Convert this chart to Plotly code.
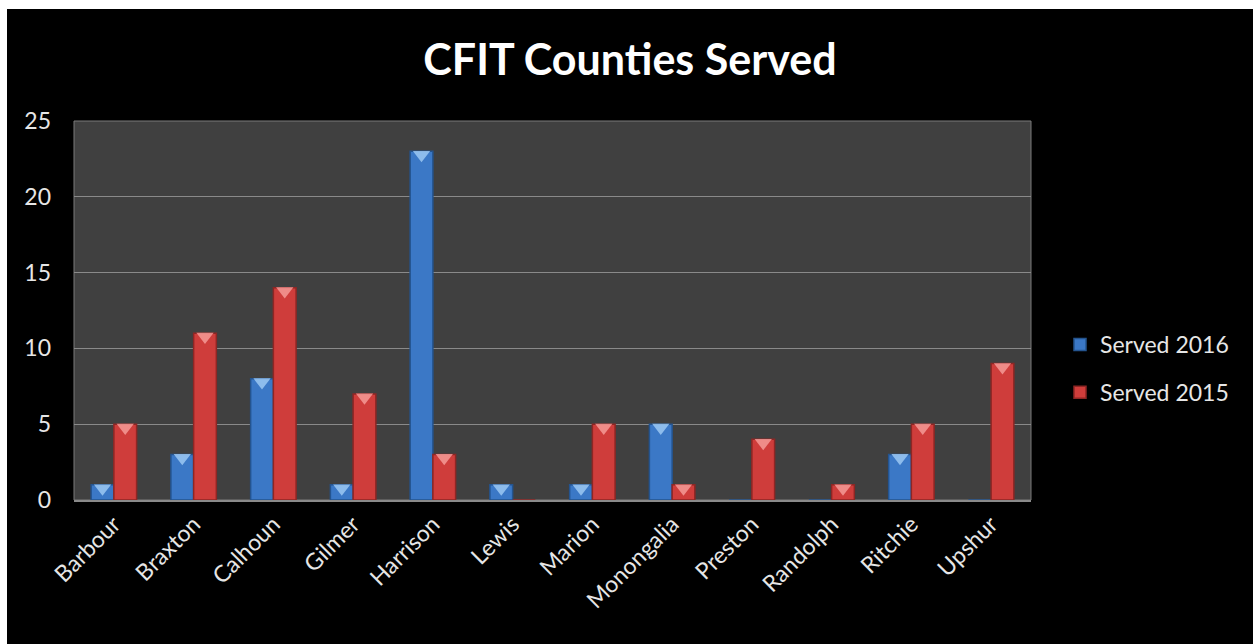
import plotly.graph_objects as go

counties = ["Barbour", "Braxton", "Calhoun", "Gilmer", "Harrison", "Lewis",
            "Marion", "Monongalia", "Preston", "Randolph", "Ritchie", "Upshur"]
served_2016 = [1, 3, 8, 1, 23, 1, 1, 5, 0, 0, 3, 0]
served_2015 = [5, 11, 14, 7, 3, 0, 5, 1, 4, 1, 5, 9]
y_ticks = [0, 5, 10, 15, 20, 25]

FONT = "Lato"
W, H = 1253, 644
L, R, T, B = 74, 222, 121, 144
pw, ph = W - L - R, H - T - B

fig = go.Figure()

series = [
    ("Served 2016", served_2016, "#3b78c6", "#24548f", "#9cc8f2", "g16"),
    ("Served 2015", served_2015, "#cf3d3b", "#8e2624", "#f49a96", "g15"),
]

for name, vals, col, edge, hi, grp in series:
    fig.add_trace(go.Bar(
        x=counties, y=vals, name=name, offsetgroup=grp, legendgroup=grp,
        marker=dict(color=col, line=dict(color=edge, width=1.5)),
    ))

# bevelled highlight on top of each bar
for name, vals, col, edge, hi, grp in series:
    fig.add_trace(go.Scatter(
        x=counties,
        y=[v - 0.22 if v > 0 else None for v in vals],
        mode="markers", offsetgroup=grp, showlegend=False, hoverinfo="skip",
        marker=dict(symbol="triangle-down", size=15, color=hi, opacity=0.85,
                    line=dict(width=0)),
    ))

# black card with thin white frame on the top/left
fig.add_shape(type="rect", xref="paper", yref="paper", layer="below",
              x0=(7 - L) / pw, x1=(W - L) / pw, y0=-B / ph, y1=(T - 9) / ph + 1,
              fillcolor="black", line=dict(width=0))
fig.add_shape(type="rect", xref="paper", yref="paper", layer="below",
              x0=0, x1=1, y0=0, y1=1,
              fillcolor="#404040", line=dict(color="#7a7a7a", width=1))

fig.update_layout(
    width=W, height=H,
    margin=dict(l=L, r=R, t=T, b=B),
    paper_bgcolor="white", plot_bgcolor="rgba(0,0,0,0)",
    barmode="group", bargap=0.43, bargroupgap=0, scattermode="group",
    title=dict(text="<b>CFIT Counties Served</b>", x=630 / W, xref="container",
               xanchor="center", y=1 - 60 / H, yanchor="middle",
               font=dict(family=FONT, size=43, color="white")),
    font=dict(family=FONT, color="#e6e6e6", size=23),
    legend=dict(x=(1060 - L) / pw, y=(500 - 323) / ph, xanchor="left",
                yanchor="top", bgcolor="rgba(0,0,0,0)", tracegroupgap=15,
                font=dict(family=FONT, size=23, color="#e6e6e6")),
    showlegend=True,
)
fig.update_xaxes(type="category", tickangle=-45, showgrid=False,
                 showline=True, linecolor="#8a8a8a", linewidth=1.5,
                 ticks="", tickfont=dict(size=23, color="#e6e6e6"))
fig.update_yaxes(range=[0, 25], tickvals=y_ticks, showgrid=True,
                 gridcolor="#8a8a8a", gridwidth=1, zeroline=False,
                 ticks="", ticklen=0, tickfont=dict(size=23, color="#e6e6e6"),
                 ticklabelstandoff=22)

fig.write_html("out.html")
